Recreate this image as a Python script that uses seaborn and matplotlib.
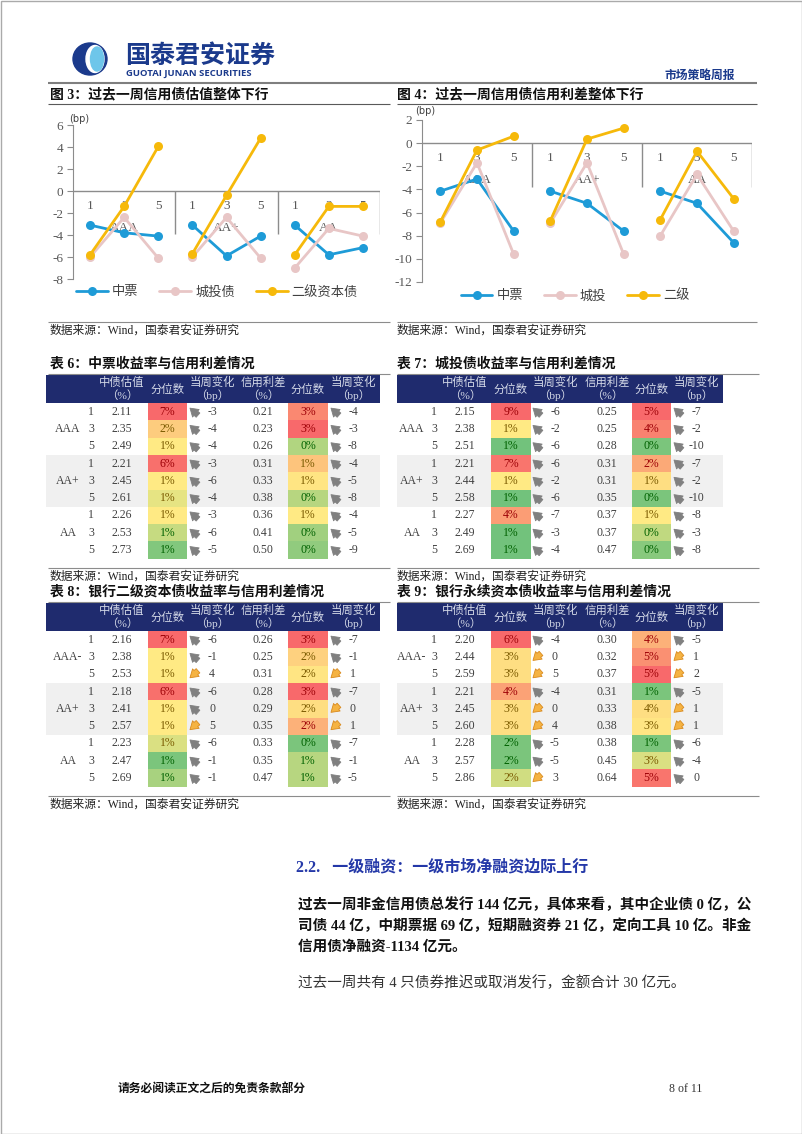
import numpy as np
import pandas as pd
import seaborn as sns
import matplotlib.pyplot as plt
from matplotlib.colors import LinearSegmentedColormap
from matplotlib.lines import Line2D
from matplotlib.patches import Rectangle, Ellipse

W, H = 802, 1134

# chart data (bp), order: AAA 1/3/5, AA+ 1/3/5, AA 1/3/5
groups = ['AAA', 'AA+', 'AA']
tenors = ['1', '3', '5']

f3_names = ['中票', '城投债', '二级资本债']
f3_mtn = [-3.1, -3.8, -4.1, -3.1, -5.9, -4.1, -3.1, -5.8, -5.15]
f3_lgfv = [-6.0, -2.4, -6.1, -6.0, -2.4, -6.1, -7.0, -3.4, -4.1]
f3_tier2 = [-5.8, -1.4, 4.05, -5.7, -0.4, 4.8, -5.8, -1.4, -1.4]

f4_names = ['中票', '城投', '二级']
f4_mtn = [-4.15, -3.1, -7.6, -4.15, -5.2, -7.6, -4.15, -5.2, -8.6]
f4_lgfv = [-6.9, -1.7, -9.6, -6.9, -1.7, -9.6, -8.0, -2.7, -7.6]
f4_tier2 = [-6.8, -0.6, 0.6, -6.7, 0.35, 1.3, -6.6, -0.7, -4.8]

# table 6: 中票
t6_ratings = ['AAA', 'AA+', 'AA']
t6_yield = ['2.11', '2.35', '2.49', '2.21', '2.45', '2.61', '2.26', '2.53', '2.73']
t6_ypct = [7, 2, 1, 6, 1, 1, 1, 1, 1]
t6_ychg = [-3, -4, -4, -3, -6, -4, -3, -6, -5]
t6_spread = ['0.21', '0.23', '0.26', '0.31', '0.33', '0.38', '0.36', '0.41', '0.50']
t6_spct = [3, 3, 0, 1, 1, 0, 1, 0, 0]
t6_schg = [-4, -3, -8, -4, -5, -8, -4, -5, -9]

# table 7: 城投债
t7_ratings = ['AAA', 'AA+', 'AA']
t7_yield = ['2.15', '2.38', '2.51', '2.21', '2.44', '2.58', '2.27', '2.49', '2.69']
t7_ypct = [9, 1, 1, 7, 1, 1, 4, 1, 1]
t7_ychg = [-6, -2, -6, -6, -2, -6, -7, -3, -4]
t7_spread = ['0.25', '0.25', '0.28', '0.31', '0.31', '0.35', '0.37', '0.37', '0.47']
t7_spct = [5, 4, 0, 2, 1, 0, 1, 0, 0]
t7_schg = [-7, -2, -10, -7, -2, -10, -8, -3, -8]

# table 8: 银行二级资本债
t8_ratings = ['AAA-', 'AA+', 'AA']
t8_yield = ['2.16', '2.38', '2.53', '2.18', '2.41', '2.57', '2.23', '2.47', '2.69']
t8_ypct = [7, 1, 1, 6, 1, 1, 1, 1, 1]
t8_ychg = [-6, -1, 4, -6, 0, 5, -6, -1, -1]
t8_yup = [0, 0, 1, 0, 0, 1, 0, 0, 0]
t8_spread = ['0.26', '0.25', '0.31', '0.28', '0.29', '0.35', '0.33', '0.35', '0.47']
t8_spct = [3, 2, 2, 3, 2, 2, 0, 1, 1]
t8_schg = [-7, -1, 1, -7, 0, 1, -7, -1, -5]
t8_sup = [0, 0, 1, 0, 1, 1, 0, 0, 0]

# table 9: 银行永续资本债
t9_ratings = ['AAA-', 'AA+', 'AA']
t9_yield = ['2.20', '2.44', '2.59', '2.21', '2.45', '2.60', '2.28', '2.57', '2.86']
t9_ypct = [6, 3, 3, 4, 3, 3, 2, 2, 2]
t9_ychg = [-4, 0, 5, -4, 0, 4, -5, -5, 3]
t9_yup = [0, 1, 1, 0, 1, 1, 0, 0, 1]
t9_spread = ['0.30', '0.32', '0.37', '0.31', '0.33', '0.38', '0.38', '0.45', '0.64']
t9_spct = [4, 5, 5, 1, 4, 3, 1, 3, 5]
t9_schg = [-5, 1, 2, -5, 1, 1, -6, -4, 0]
t9_sup = [0, 1, 1, 0, 1, 1, 0, 0, 0]

# position of each percentile cell on the green-yellow-red colour scale
t6_yshade = [1.0, 0.62, 0.5, 0.97, 0.5, 0.42, 0.5, 0.32, 0.1]
t6_sshade = [0.88, 1.0, 0.25, 0.65, 0.52, 0.27, 0.5, 0.2, 0.15]
t7_yshade = [1.0, 0.5, 0.05, 0.95, 0.5, 0.05, 0.8, 0.05, 0.05]
t7_sshade = [1.0, 0.9, 0.08, 0.75, 0.55, 0.08, 0.5, 0.3, 0.12]
t8_yshade = [1.0, 0.5, 0.5, 0.97, 0.5, 0.5, 0.38, 0.08, 0.22]
t8_sshade = [1.0, 0.6, 0.52, 1.0, 0.55, 0.72, 0.08, 0.27, 0.27]
t9_yshade = [1.0, 0.55, 0.55, 0.78, 0.55, 0.55, 0.08, 0.08, 0.35]
t9_sshade = [0.72, 0.85, 1.0, 0.08, 0.55, 0.52, 0.08, 0.38, 0.95]

sns.set_style('white')
plt.rcParams['font.family'] = ['Liberation Serif', 'Noto Sans CJK SC', 'DejaVu Sans']
plt.rcParams['axes.unicode_minus'] = False

fig = plt.figure(figsize=(W / 100, H / 100), dpi=100)
page = fig.add_axes([0, 0, 1, 1])
page.set_xlim(0, W)
page.set_ylim(H, 0)
page.axis('off')

NAVY = '#1F2B6E'
GRAY = '#8c8c8c'
TXT = '#404040'
xl_scale = LinearSegmentedColormap.from_list('xl', ['#63BE7B', '#FFEB84', '#F8696B'])


def px_axes(x0, y0, x1, y1):
    return fig.add_axes([x0 / W, 1 - y1 / H, (x1 - x0) / W, (y1 - y0) / H])


def put(x, y, s, **kw):
    kw.setdefault('va', 'center')
    page.text(x, y, s, **kw)


def hline(x0, x1, y, lw=0.8, color=GRAY):
    page.plot([x0, x1], [y, y], color=color, lw=lw, solid_capstyle='butt')


def icon(x, y, up):
    # thick arrow icon: orange up-right, gray down-right (head at the first point here)
    if up:
        head, tail, fc, ec = (x + 4, y - 3.5), (x - 4, y + 3.5), '#F5B342', '#D98A1E'
    else:
        head, tail, fc, ec = (x + 4, y + 3.5), (x - 4, y - 3.5), '#808080', '#808080'
    page.annotate('', xy=tail, xytext=head,
                  arrowprops=dict(arrowstyle='simple,head_width=0.9,head_length=0.7,tail_width=0.5',
                                  fc=fc, ec=ec, lw=0.6, shrinkA=0, shrinkB=0, mutation_scale=8))


# header / logo
page.add_patch(Ellipse((90, 59), 34, 32, color='#1B3A8C'))
page.add_patch(Ellipse((95, 59), 18, 27, color='white'))
page.add_patch(Ellipse((97, 59), 13, 24, color='#6EC6EA'))
put(125, 56, '国泰君安证券', fontsize=18, weight='bold', color='#1B3A8C', family='Noto Sans CJK SC')
put(126, 74, 'GUOTAI JUNAN SECURITIES', fontsize=6.8, weight='bold', color='#1B3A8C', family='Open Sans')
put(735, 75, '市场策略周报', fontsize=8.5, weight='bold', color='#1B3A8C', ha='right', family='Noto Sans CJK SC')
hline(48, 757, 83, lw=1.5, color='#7f7f7f')
page.add_patch(Rectangle((0.5, 0.5), W - 1, H - 1, fill=False, ec='#aaaaaa', lw=1))

# figure titles
put(50, 95, '图 3：过去一周信用债估值整体下行', fontsize=10, weight='bold', color='#111111')
put(397, 95, '图 4：过去一周信用债信用利差整体下行', fontsize=10, weight='bold', color='#111111')
hline(48, 390, 104, color='#595959')
hline(397, 757, 104, color='#595959')
hline(48, 390, 322)
hline(397, 757, 322)
put(50, 331, '数据来源：Wind，国泰君安证券研究', fontsize=8.5, color='#222222')
put(397, 331, '数据来源：Wind，国泰君安证券研究', fontsize=8.5, color='#222222')


def line_chart(box, ylim, yticks, names, series, tick_y, grp_y, sep_y, legend_c, bp_xy):
    ax = px_axes(*box)
    colors = ['#1E9BD7', '#E8C6C6', '#F6B90A']
    rows = []
    for name, vals in zip(names, series):
        for i, v in enumerate(vals):
            rows.append({'pos': i, 'val': v, 'series': name, 'grp': i // 3})
    df = pd.DataFrame(rows)
    sns.lineplot(data=df, x='pos', y='val', hue='series', units='grp', estimator=None,
                 hue_order=names, palette=dict(zip(names, colors)),
                 marker='o', markersize=6.5, markeredgewidth=0, linewidth=2,
                 legend=False, ax=ax, zorder=3)
    ax.set_xlim(-0.5, 8.5)
    ax.set_ylim(*ylim)
    ax.set_yticks(yticks)
    ax.set_yticklabels([str(t) for t in yticks])
    ax.set_xticks([])
    ax.set_xlabel('')
    ax.set_ylabel('')
    for s in ['top', 'right', 'bottom']:
        ax.spines[s].set_visible(False)
    ax.spines['left'].set_color(GRAY)
    ax.tick_params(axis='y', left=True, length=4, color=GRAY, labelsize=9.5,
                   labelcolor='#595959', pad=3)
    ax.patch.set_alpha(0)
    ax.axhline(0, color=GRAY, lw=1, zorder=1)
    ax.vlines([2.5, 5.5, 8.5], sep_y, 0, color=GRAY, lw=1, zorder=1)
    for i in range(9):
        ax.text(i, tick_y, tenors[i % 3], ha='center', va='center', fontsize=9.5,
                color='#595959', zorder=1.5)
    for g in range(3):
        ax.text(3 * g + 1, grp_y, groups[g], ha='center', va='center', fontsize=9.5,
                color='#595959', zorder=1.5)
    handles = [Line2D([], [], color=c, lw=2, marker='o', markersize=6.5, markeredgewidth=0)
               for c in colors]
    ax.legend(handles, names, loc='center', bbox_to_anchor=(legend_c[0] / W, 1 - legend_c[1] / H),
              bbox_transform=fig.transFigure, ncol=3, frameon=False, fontsize=9.5,
              handlelength=2.4, handletextpad=0.3, columnspacing=1.6, labelcolor='#404040')
    put(bp_xy[0], bp_xy[1], '(bp)', fontsize=7, color='#404040', family='DejaVu Sans')
    return ax


line_chart((73, 125, 380, 279), (-8, 6), [-8, -6, -4, -2, 0, 2, 4, 6], f3_names,
           [f3_mtn, f3_lgfv, f3_tier2], -1.4, -3.4, -3.9, (217, 292), (69, 119))
line_chart((422, 120, 752, 282), (-12, 2), [-12, -10, -8, -6, -4, -2, 0, 2], f4_names,
           [f4_mtn, f4_lgfv, f4_tier2], -1.3, -3.2, -3.8, (575, 296), (415, 111))

ROW = 17.3
LEFT = dict(rating=68, tenor=91, yld=122, ca=(148, 187), ia=194, va=212, spr=263,
            cb=(288, 328), ib=335, vb=353, band=(46, 380), line=(48, 390), title=50)
RIGHT = dict(rating=412, tenor=434, yld=465, ca=(491, 531), ia=537, va=555, spr=607,
             cb=(632, 671), ib=678, vb=696, band=(397, 723), line=(397, 759), title=397)


def pct_cells(x0, x1, y0, pct, shade):
    ax = px_axes(x0, y0, x1, y0 + 9 * ROW)
    vals = np.array(shade, dtype=float).reshape(-1, 1)
    labels = np.array([f'{p}%' for p in pct]).reshape(-1, 1)
    sns.heatmap(vals, ax=ax, cmap=xl_scale, vmin=0, vmax=1, cbar=False, annot=labels, fmt='',
                annot_kws=dict(fontsize=8.5), xticklabels=False, yticklabels=False)
    for t, s in zip(ax.texts, shade):
        t.set_color('#9C0006' if s > 0.7 else ('#006100' if s < 0.35 else '#7A5A00'))


def table(c, top, title, ratings, yld, ypct, yshade, ychg, yup, spr, spct, sshade, schg, sup):
    put(c['title'], top - 11, title, fontsize=10, weight='bold', color='#111111')
    hline(c['line'][0], c['line'][1], top - 1)
    b0, b1 = c['band']
    page.add_patch(Rectangle((b0, top), b1 - b0, 27.5, color=NAVY, lw=0))
    body = top + 28
    page.add_patch(Rectangle((b0, body + 3 * ROW), b1 - b0, 3 * ROW, color='#F0F0F0', lw=0))
    hc = '#D5DAE8'
    for x, l1, l2 in [(c['yld'], '中债估值', '（%）'), (c['va'], '当周变化', '（bp）'),
                      (c['spr'], '信用利差', '（%）'), (c['vb'], '当周变化', '（bp）')]:
        put(x, top + 7.5, l1, fontsize=8.2, color=hc, ha='center')
        put(x, top + 20.5, l2, fontsize=8.2, color=hc, ha='center')
    for cell in (c['ca'], c['cb']):
        put((cell[0] + cell[1]) / 2, top + 14, '分位数', fontsize=8.2, color=hc, ha='center')
    for i in range(9):
        y = body + ROW * (i + 0.5)
        if i % 3 == 1:
            put(c['rating'], y, ratings[i // 3], fontsize=8.5, color=TXT, ha='center')
        put(c['tenor'], y, tenors[i % 3], fontsize=8.5, color=TXT, ha='center')
        put(c['yld'], y, yld[i], fontsize=8.5, color=TXT, ha='center')
        put(c['spr'], y, spr[i], fontsize=8.5, color=TXT, ha='center')
        for ix, vx, v, up in [(c['ia'], c['va'], ychg[i], yup[i]), (c['ib'], c['vb'], schg[i], sup[i])]:
            icon(ix, y, up)
            put(vx, y, str(v), fontsize=8.5, color=TXT, ha='center')
    pct_cells(c['ca'][0], c['ca'][1], body, ypct, yshade)
    pct_cells(c['cb'][0], c['cb'][1], body, spct, sshade)
    bottom = body + 9 * ROW + 9
    hline(c['line'][0], c['line'][1], bottom)
    put(c['title'], bottom + 9, '数据来源：Wind，国泰君安证券研究', fontsize=8.5, color='#222222')


no_up = [0] * 9
table(LEFT, 375, '表 6：中票收益率与信用利差情况', t6_ratings, t6_yield, t6_ypct, t6_yshade,
      t6_ychg, no_up, t6_spread, t6_spct, t6_sshade, t6_schg, no_up)
table(RIGHT, 375, '表 7：城投债收益率与信用利差情况', t7_ratings, t7_yield, t7_ypct, t7_yshade,
      t7_ychg, no_up, t7_spread, t7_spct, t7_sshade, t7_schg, no_up)
table(LEFT, 603, '表 8：银行二级资本债收益率与信用利差情况', t8_ratings, t8_yield, t8_ypct, t8_yshade,
      t8_ychg, t8_yup, t8_spread, t8_spct, t8_sshade, t8_schg, t8_sup)
table(RIGHT, 603, '表 9：银行永续资本债收益率与信用利差情况', t9_ratings, t9_yield, t9_ypct, t9_yshade,
      t9_ychg, t9_yup, t9_spread, t9_spct, t9_sshade, t9_schg, t9_sup)

# text section
put(296, 867, '2.2.   一级融资：一级市场净融资边际上行', fontsize=11.5, weight='bold', color='#2438A8')
para = ['过去一周非金信用债总发行 144 亿元，具体来看，其中企业债 0 亿，公',
        '司债 44 亿，中期票据 69 亿，短期融资券 21 亿，定向工具 10 亿。非金',
        '信用债净融资-1134 亿元。']
for k, line in enumerate(para):
    put(298, 905 + 21 * k, line, fontsize=10.5, weight='bold', color='#111111')
put(298, 983, '过去一周共有 4 只债券推迟或取消发行，金额合计 30 亿元。', fontsize=10.5, color='#333333')

# footer
put(118, 1089, '请务必阅读正文之后的免责条款部分', fontsize=8.5, weight='bold', color='#111111')
put(702, 1089, '8 of 11', fontsize=8.5, color='#333333', ha='right')

fig.savefig('out.png', dpi=100)
